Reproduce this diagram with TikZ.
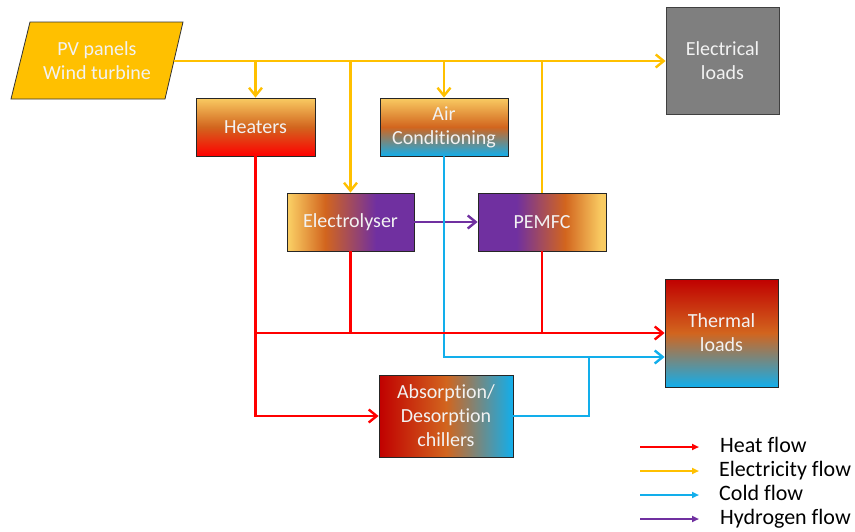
\documentclass[tikz,border=0pt]{standalone}
\usepackage{fontspec}
\setmainfont{Carlito}[Ligatures={NoCommon}]
\usetikzlibrary{arrows.meta}
\definecolor{elecC}{HTML}{FFC000}
\definecolor{heatC}{HTML}{FF0000}
\definecolor{coldC}{HTML}{12AEEB}
\definecolor{hydC}{HTML}{7030A0}
\definecolor{lorange}{HTML}{F9CB62}
\definecolor{morange}{HTML}{D2651E}
\definecolor{dred}{HTML}{C00000}
\definecolor{grayC}{HTML}{7F7F7F}
\pgfdeclarehorizontalshading{elyshade}{100bp}{color(0bp)=(lorange); color(26bp)=(lorange); color(40bp)=(morange); color(60bp)=(hydC); color(100bp)=(hydC)}
\pgfdeclarehorizontalshading{pemshade}{100bp}{color(0bp)=(hydC); color(40bp)=(hydC); color(59bp)=(morange); color(73bp)=(lorange); color(100bp)=(lorange)}
\tikzset{
  box/.style={draw=black!85, line width=0.8pt, text=white!95!black,
    font=\fontsize{20}{24}\selectfont, align=center, inner sep=0pt},
  flow/.style={line width=2.6pt, line join=miter},
  tip/.style={-{Straight Barb[length=8pt,width=13pt,line width=2.4pt]}},
  elec/.style={flow, draw=elecC},
  heat/.style={flow, draw=heatC},
  cold/.style={flow, draw=coldC},
  hyd/.style={flow, draw=hydC},
  legarrow/.style={line width=2pt, -{Triangle[length=7pt,width=6pt]}},
  legtext/.style={anchor=base west, inner sep=0pt, font=\fontsize{22}{26}\selectfont, text=black}
}
\begin{document}
\begin{tikzpicture}[x=1pt,y=-1pt]
\useasboundingbox (0,0) rectangle (855,531);

% PV source (parallelogram)
\draw[fill=elecC, draw=black!80, line width=0.8pt] (30,22) -- (183,22) -- (165,99) -- (11,99) -- cycle;
\node[box, draw=none] (pv) at (97,60.5) {PV panels\\Wind turbine};
\coordinate (pvout) at (174,61);

% Boxes
\node[box, minimum width=119pt, minimum height=58pt,
  top color=lorange, bottom color=heatC, middle color=morange] (heaters) at (255.5,127) {Heaters};
\node[box, minimum width=128pt, minimum height=58pt,
  top color=lorange, bottom color=coldC, middle color=morange] (ac) at (444,127) {Air\\Conditioning};
\node[box, minimum width=127pt, minimum height=58pt, shading=elyshade] (ely) at (350.5,222) {Electrolyser};
\node[box, minimum width=128pt, minimum height=58pt, shading=pemshade] (pem) at (542,222) {PEMFC};
\node[box, fill=grayC, draw=black!75, minimum width=113pt, minimum height=107pt] (eload) at (722.5,60.5) {Electrical\\loads};
\node[box, minimum width=113pt, minimum height=108pt,
  top color=dred, bottom color=coldC, middle color=morange] (therm) at (721.5,333) {Thermal\\loads};
\node[box, minimum width=134pt, minimum height=82pt,
  left color=dred, right color=coldC, middle color=morange] (abs) at (446,416) {Absorption/\\Desorption\\chillers};

\coordinate (coldin) at ([yshift=-24pt]therm.west);
\coordinate (cj) at (589,357);

% Electricity flows
\draw[elec, tip] (pvout) -- (pvout -| eload.west);
\draw[elec, tip] (heaters.north |- pvout) -- (heaters.north);
\draw[elec, tip] (ely.north |- pvout) -- (ely.north);
\draw[elec, tip] (ac.north |- pvout) -- (ac.north);
\draw[elec] (pem.north) -- (pem.north |- pvout);

% Hydrogen flow
\draw[hyd, tip] (ely.east) -- (pem.west);

% Cold flows
\draw[cold, tip] (ac.south) -- (ac.south |- coldin) -- (coldin);
\draw[cold] (abs.east) -- (abs.east -| cj) -- (cj);

% Heat flows
\draw[heat, tip] (heaters.south) -- (heaters.south |- abs.west) -- (abs.west);
\draw[heat, tip] (heaters.south |- therm.west) -- (therm.west);
\draw[heat] (ely.south) -- (ely.south |- therm.west);
\draw[heat] (pem.south) -- (pem.south |- therm.west);

% Legend
\coordinate (l1s) at (640,447); \coordinate (l1e) at (699,447);
\coordinate (l2s) at (640,471); \coordinate (l2e) at (699,471);
\coordinate (l3s) at (640,495); \coordinate (l3e) at (699,495);
\coordinate (l4s) at (640,519); \coordinate (l4e) at (699,519);
\draw[legarrow, draw=heatC, fill=heatC] (l1s) -- (l1e);
\draw[legarrow, draw=elecC, fill=elecC] (l2s) -- (l2e);
\draw[legarrow, draw=coldC, fill=coldC] (l3s) -- (l3e);
\draw[legarrow, draw=hydC, fill=hydC] (l4s) -- (l4e);
\node[legtext] (t1) at (720,452) {Heat flow};
\node[legtext] (t2) at (719,476) {Electricity flow};
\node[legtext] (t3) at (719,500) {Cold flow};
\node[legtext] (t4) at (720,524) {Hydrogen flow};
\end{tikzpicture}
\end{document}
